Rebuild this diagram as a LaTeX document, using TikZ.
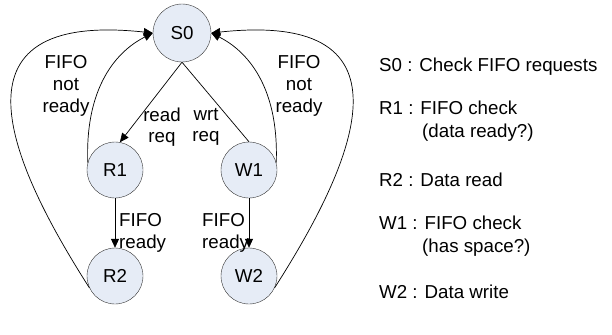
\documentclass[tikz,border=0pt]{standalone}
\usepackage{fontspec}
\setmainfont{Liberation Sans}
\usepackage{xcolor}
\usepackage{tikz}
\usetikzlibrary{arrows.meta, positioning}
\definecolor{statefill}{RGB}{230,236,246}

\begin{document}
\begin{tikzpicture}[x=1bp, y=-1bp,
    % Define styles for the nodes
    state_node/.style={circle, draw=black!80, fill=statefill, minimum size=56bp, inner sep=0pt, font=\fontsize{18.8}{21.7}\selectfont},
    label_node/.style={align=center, inner sep=0pt, font=\fontsize{18.8}{21.7}\selectfont},
    legend_node/.style={anchor=west, align=left, inner sep=0pt, font=\fontsize{18.8}{23.5}\selectfont},
    % Styles for arrows
    arrow/.style={-{Triangle[length=9bp, width=8bp]}, line width=0.7bp},
    plain/.style={line width=0.7bp}
]
    \useasboundingbox (0,0) rectangle (612,334);

    % =========================================================================
    % STATES
    % =========================================================================
    \node (S0) [state_node, minimum size=58bp] at (182,33) {S0};
    \node (R1) [state_node] at (115,170) {R1};
    \node (W1) [state_node] at (249,170) {W1};
    \node (R2) [state_node] at (115,276) {R2};
    \node (W2) [state_node] at (249,276) {W2};

    % =========================================================================
    % TRANSITIONS
    % =========================================================================
    \draw [arrow] (S0.south) -- (R1.80);
    \draw [plain] (S0.south) -- (W1.north);
    \draw [arrow] (R1) -- (R2);
    \draw [arrow] (W1) -- (W2);

    % Back to S0 (drawn round the outside)
    \draw [arrow] (R1.165) .. controls +(-3,-83) and +(-30,15) .. (S0.west);
    \draw [arrow] (R2.205) .. controls +(-78,-122) and +(-213,-23) .. (S0.west);
    \draw [arrow] (W1.15) .. controls +(3,-83) and +(30,15) .. (S0.east);
    \draw [arrow] (W2.-25) .. controls +(78,-122) and +(213,-23) .. (S0.east);

    % Transition labels
    \node (nr_left) [label_node] at (66,86) {FIFO\\not\\ready};
    \node (nr_right) [label_node] at (299,86) {FIFO\\not\\ready};
    \node (rd_req) [label_node] at (162,127) {read\\req};
    \node (wr_req) [label_node] at (206,127) {wrt\\req};
    \node (rdy_left) [label_node, align=left, anchor=west] at (119,233) {FIFO\\ready};
    \node (rdy_right) [label_node, align=left, anchor=west] at (202,233) {FIFO\\ready};

    % =========================================================================
    % LEGEND
    % =========================================================================
    \node (leg_s0) [legend_node] at (379,67) {S0 : Check FIFO requests};
    \node (leg_r1) [legend_node] at (379,121) {R1 : FIFO check\\\hspace*{43bp}(data ready?)};
    \node (leg_r2) [legend_node] at (379,180) {R2 : Data read};
    \node (leg_w1) [legend_node] at (379,236) {W1 : FIFO check\\\hspace*{43bp}(has space?)};
    \node (leg_w2) [legend_node] at (379,292) {W2 : Data write};

\end{tikzpicture}
\end{document}
